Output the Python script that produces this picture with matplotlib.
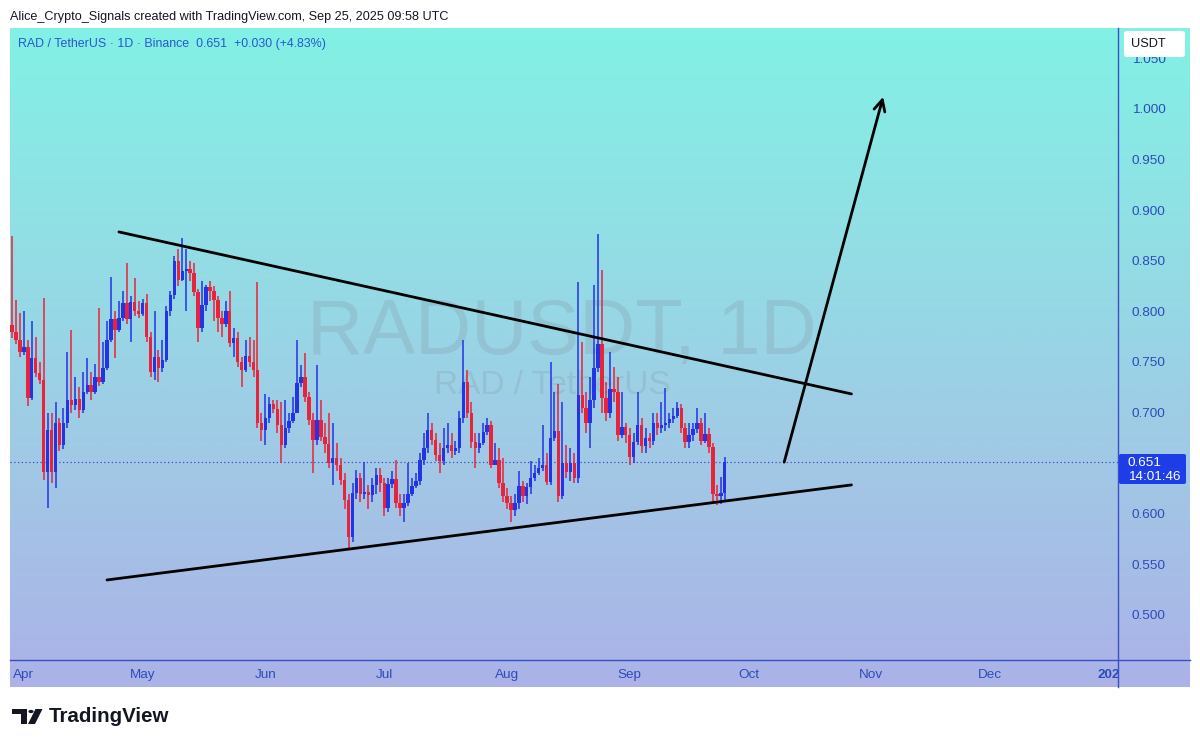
import numpy as np
import pandas as pd
import matplotlib
matplotlib.use('Agg')
import matplotlib.pyplot as plt
import matplotlib.dates as mdates
import matplotlib.transforms as mtransforms
from matplotlib.patches import FancyBboxPatch, Polygon, Circle
from matplotlib.colors import LinearSegmentedColormap

plt.rcParams['font.family'] = ['Liberation Sans', 'DejaVu Sans']

# ---- data (RAD/USDT daily) ----
first_date = '2025-03-29'
first_open = 0.787
closes = [
    0.780, 0.772, 0.760, 0.765, 0.714, 0.754, 0.739, 0.732, 0.641, 0.683,
    0.641, 0.690, 0.668, 0.690, 0.712, 0.707, 0.713, 0.703, 0.720, 0.727,
    0.720, 0.735, 0.730, 0.744, 0.772, 0.792, 0.782, 0.793, 0.808, 0.792,
    0.809, 0.800, 0.797, 0.808, 0.775, 0.740, 0.755, 0.744, 0.752, 0.800,
    0.816, 0.850, 0.831, 0.840, 0.842, 0.838, 0.819, 0.784, 0.806, 0.824,
    0.820, 0.811, 0.793, 0.788, 0.800, 0.769, 0.774, 0.750, 0.742, 0.756,
    0.750, 0.742, 0.690, 0.683, 0.695, 0.708, 0.704, 0.688, 0.668, 0.685,
    0.692, 0.700, 0.729, 0.735, 0.715, 0.693, 0.673, 0.693, 0.676, 0.669,
    0.650, 0.655, 0.648, 0.633, 0.614, 0.577, 0.621, 0.635, 0.620, 0.622,
    0.619, 0.628, 0.638, 0.630, 0.606, 0.629, 0.634, 0.611, 0.606, 0.611,
    0.620, 0.627, 0.632, 0.653, 0.665, 0.683, 0.673, 0.658, 0.652, 0.665,
    0.668, 0.662, 0.665, 0.695, 0.730, 0.700, 0.671, 0.665, 0.670, 0.681,
    0.688, 0.648, 0.653, 0.630, 0.618, 0.611, 0.604, 0.611, 0.627, 0.618,
    0.626, 0.635, 0.640, 0.645, 0.648, 0.631, 0.675, 0.682, 0.618, 0.650,
    0.641, 0.650, 0.635, 0.717, 0.705, 0.690, 0.712, 0.744, 0.768, 0.714,
    0.700, 0.723, 0.720, 0.678, 0.686, 0.678, 0.656, 0.671, 0.688, 0.667,
    0.675, 0.672, 0.690, 0.685, 0.688, 0.690, 0.694, 0.697, 0.705, 0.685,
    0.671, 0.678, 0.684, 0.690, 0.672, 0.679, 0.666, 0.620, 0.618, 0.621,
    0.651,
]
highs = [
    0.874, 0.811, 0.798, 0.800, 0.772, 0.790, 0.775, 0.750, 0.813, 0.700,
    0.700, 0.710, 0.695, 0.705, 0.760, 0.782, 0.735, 0.725, 0.740, 0.754,
    0.740, 0.748, 0.803, 0.770, 0.790, 0.834, 0.800, 0.810, 0.820, 0.848,
    0.815, 0.833, 0.810, 0.812, 0.817, 0.780, 0.800, 0.762, 0.772, 0.805,
    0.820, 0.855, 0.862, 0.872, 0.862, 0.850, 0.848, 0.822, 0.830, 0.826,
    0.830, 0.825, 0.815, 0.800, 0.810, 0.820, 0.784, 0.780, 0.755, 0.772,
    0.775, 0.772, 0.829, 0.700, 0.718, 0.715, 0.712, 0.712, 0.710, 0.712,
    0.700, 0.715, 0.772, 0.747, 0.759, 0.720, 0.700, 0.747, 0.712, 0.690,
    0.700, 0.690, 0.670, 0.655, 0.640, 0.620, 0.630, 0.643, 0.640, 0.651,
    0.628, 0.635, 0.645, 0.645, 0.635, 0.635, 0.642, 0.653, 0.620, 0.620,
    0.650, 0.635, 0.640, 0.660, 0.680, 0.700, 0.690, 0.680, 0.670, 0.685,
    0.690, 0.680, 0.672, 0.702, 0.772, 0.742, 0.710, 0.680, 0.680, 0.690,
    0.695, 0.692, 0.670, 0.665, 0.655, 0.625, 0.618, 0.620, 0.642, 0.632,
    0.630, 0.652, 0.648, 0.655, 0.688, 0.660, 0.750, 0.720, 0.728, 0.710,
    0.668, 0.665, 0.660, 0.829, 0.770, 0.720, 0.735, 0.826, 0.876, 0.841,
    0.730, 0.760, 0.745, 0.735, 0.720, 0.690, 0.685, 0.680, 0.720, 0.695,
    0.685, 0.680, 0.700, 0.700, 0.710, 0.724, 0.700, 0.705, 0.710, 0.708,
    0.690, 0.690, 0.690, 0.705, 0.695, 0.700, 0.685, 0.670, 0.628, 0.636,
    0.656,
]
lows = [
    0.774, 0.768, 0.755, 0.757, 0.706, 0.712, 0.735, 0.728, 0.633, 0.606,
    0.630, 0.625, 0.662, 0.664, 0.685, 0.700, 0.703, 0.695, 0.700, 0.718,
    0.712, 0.718, 0.726, 0.728, 0.742, 0.770, 0.754, 0.780, 0.790, 0.788,
    0.770, 0.795, 0.793, 0.795, 0.770, 0.735, 0.732, 0.730, 0.740, 0.750,
    0.795, 0.812, 0.825, 0.830, 0.800, 0.830, 0.815, 0.770, 0.780, 0.800,
    0.810, 0.790, 0.780, 0.775, 0.785, 0.765, 0.755, 0.745, 0.725, 0.740,
    0.745, 0.735, 0.685, 0.672, 0.668, 0.690, 0.700, 0.680, 0.650, 0.665,
    0.680, 0.690, 0.700, 0.725, 0.710, 0.688, 0.640, 0.668, 0.672, 0.660,
    0.645, 0.628, 0.642, 0.628, 0.605, 0.564, 0.572, 0.615, 0.612, 0.615,
    0.605, 0.612, 0.620, 0.622, 0.598, 0.602, 0.625, 0.606, 0.598, 0.592,
    0.608, 0.618, 0.625, 0.628, 0.648, 0.660, 0.668, 0.652, 0.640, 0.648,
    0.660, 0.655, 0.658, 0.660, 0.690, 0.695, 0.665, 0.645, 0.660, 0.668,
    0.678, 0.645, 0.648, 0.625, 0.612, 0.605, 0.592, 0.598, 0.605, 0.612,
    0.610, 0.620, 0.632, 0.638, 0.642, 0.628, 0.628, 0.672, 0.612, 0.615,
    0.635, 0.632, 0.630, 0.630, 0.700, 0.680, 0.665, 0.705, 0.740, 0.700,
    0.692, 0.695, 0.710, 0.672, 0.675, 0.670, 0.648, 0.650, 0.668, 0.660,
    0.660, 0.665, 0.668, 0.678, 0.680, 0.682, 0.685, 0.690, 0.695, 0.680,
    0.665, 0.665, 0.672, 0.680, 0.668, 0.670, 0.660, 0.612, 0.609, 0.610,
    0.612,
]

# hand-drawn pattern lines (date, price)
upper_line = [('2025-04-25', 0.8785), ('2025-10-27', 0.7184)]
lower_line = [('2025-04-22', 0.5346), ('2025-10-27', 0.6285)]
arrow_path = [('2025-10-10', 0.651), ('2025-11-04', 1.012)]

price_ticks = [0.500, 0.550, 0.600, 0.700, 0.750, 0.800, 0.850, 0.900, 0.950, 1.000, 1.050]
month_ticks = ['2025-04-01', '2025-05-01', '2025-06-01', '2025-07-01', '2025-08-01',
               '2025-09-01', '2025-10-01', '2025-11-01', '2025-12-01', '2026-01-01']
month_labels = ['Apr', 'May', 'Jun', 'Jul', 'Aug', 'Sep', 'Oct', 'Nov', 'Dec', '2026']

BLUE = '#2234e6'
RED = '#e8243a'
AXIS = '#3b50c6'
TICKC = '#2d4cb8'

W, H = 1200, 747


def fx(px):
    return px / W


def fy(py):
    return 1 - py / H


fig = plt.figure(figsize=(12, 7.47), dpi=100)
fig.patch.set_facecolor('white')

# gradient background (chart + scales)
bg = fig.add_axes([fx(10), fy(687), fx(1190) - fx(10), fy(28) - fy(687)], zorder=0)
cmap = LinearSegmentedColormap.from_list('tvbg', [(0.0, '#82f1e4'), (0.35, '#93dde5'),
                                                  (0.65, '#a1c9e5'), (1.0, '#abb2e8')])
grad = np.linspace(0, 1, 256).reshape(-1, 1)
bg.imshow(grad, aspect='auto', cmap=cmap, extent=[0, 1, 1, 0])
bg.set_axis_off()

ax = fig.add_axes([fx(10), fy(660), fx(1118) - fx(10), fy(28) - fy(660)], zorder=1)
ax.patch.set_alpha(0)

dates = pd.date_range(first_date, periods=len(closes), freq='D')
x = mdates.date2num(dates)
c = np.array(closes)
o = np.concatenate([[first_open], c[:-1]])
hi = np.maximum(np.array(highs), np.maximum(o, c))
lo = np.minimum(np.array(lows), np.minimum(o, c))
cols = np.where(c >= o, BLUE, RED)

ax.vlines(x, lo, hi, colors=cols, lw=1.1, zorder=3)
ax.bar(x, np.maximum(np.abs(c - o), 0.0015), bottom=np.minimum(o, c), width=0.86,
       color=cols, linewidth=0, zorder=4)

ax.set_xlim(x[0] - 0.5, x[0] + 279.3)
ax.set_ylim(0.4555, 1.080)


def axpos(px, py):
    return ((fx(px) - fx(10)) / (fx(1118) - fx(10)),
            (fy(py) - fy(660)) / (fy(28) - fy(660)))


# watermark
ax.text(*axpos(562, 334), 'RADUSDT, 1D', transform=ax.transAxes, ha='center', va='center',
        fontsize=56, color='#7d8a96', alpha=0.22, zorder=1)
ax.text(*axpos(552, 385), 'RAD / TetherUS', transform=ax.transAxes, ha='center', va='center',
        fontsize=24, color='#7d8a96', alpha=0.22, zorder=1)

# last price dotted line
ax.axhline(c[-1], color=AXIS, lw=0.9, ls=(0, (1, 2)), zorder=2)

# pattern lines
for line in (upper_line, lower_line):
    lx = mdates.date2num(pd.to_datetime([p[0] for p in line]))
    ly = [p[1] for p in line]
    ax.plot(lx, ly, color='black', lw=2.0, solid_capstyle='round', zorder=5)
arr_x = mdates.date2num(pd.to_datetime([p[0] for p in arrow_path]))
ax.annotate('', xy=(arr_x[1], arrow_path[1][1]), xytext=(arr_x[0], arrow_path[0][1]),
            arrowprops=dict(arrowstyle='->,head_length=0.8,head_width=0.4', lw=2.0,
                            color='black', shrinkA=0, shrinkB=0), zorder=5)

# axes styling
for s in ax.spines.values():
    s.set_visible(False)
ax.set_xticks([])
ax.yaxis.tick_right()
ax.set_yticks(price_ticks)
ax.set_yticklabels([f'{v:.3f}' for v in price_ticks])
ax.tick_params(axis='y', length=0, pad=10, labelsize=9.7, labelcolor=TICKC)

# month labels, clipped at the price scale
trans = mtransforms.blended_transform_factory(ax.transData, fig.transFigure)
clip = mtransforms.TransformedBbox(mtransforms.Bbox([[fx(10), 0], [fx(1118), 1]]), fig.transFigure)
for d, lab in zip(month_ticks, month_labels):
    t = fig.text(mdates.date2num(pd.Timestamp(d)), fy(675), lab, transform=trans,
                 ha='center', va='center', fontsize=9.7, color=TICKC,
                 fontweight='bold' if lab == '2026' else 'normal', zorder=6)
    t.set_clip_box(clip)
    t.set_clip_on(True)

# scale borders
fig.add_artist(plt.Line2D([fx(1118), fx(1118)], [fy(28), fy(687)], color=AXIS, lw=1.0, zorder=7))
fig.add_artist(plt.Line2D([fx(10), fx(1190)], [fy(660), fy(660)], color=AXIS, lw=1.0, zorder=7))

# USDT box
fig.add_artist(FancyBboxPatch((fx(1124), fy(57)), fx(1185) - fx(1124), fy(31) - fy(57),
                              boxstyle='round,pad=0,rounding_size=0.003', fc='white', ec='none',
                              transform=fig.transFigure, zorder=8))
fig.text(fx(1131), fy(44), 'USDT', ha='left', va='center', fontsize=9.2, color='#131722', zorder=9)

# last price label
fig.add_artist(FancyBboxPatch((fx(1119), fy(484)), fx(1186) - fx(1119), fy(454) - fy(484),
                              boxstyle='round,pad=0,rounding_size=0.002', fc='#1d3de6', ec='none',
                              transform=fig.transFigure, zorder=8))
fig.text(fx(1128), fy(463), f'{c[-1]:.3f}', ha='left', va='center', fontsize=9.7, color='white', zorder=9)
fig.text(fx(1128), fy(477), '14:01:46', ha='left', va='center', fontsize=9.7, color='white', zorder=9)

# header texts
fig.text(fx(10), fy(17), 'Alice_Crypto_Signals created with TradingView.com, Sep 25, 2025 09:58 UTC',
         ha='left', va='center', fontsize=9.1, color='#131722')
change = c[-1] - c[-2]
fig.text(fx(18), fy(44), f'RAD / TetherUS \u00b7 1D \u00b7 Binance  {c[-1]:.3f}  +{change:.3f} (+{change / c[-2] * 100:.2f}%)',
         ha='left', va='center', fontsize=8.9, color='#2658d0', zorder=9)

# TradingView logo
logo = '#131722'
fig.add_artist(Polygon([(fx(12), fy(709)), (fx(27), fy(709)), (fx(27), fy(724)), (fx(21), fy(724)),
                        (fx(21), fy(714)), (fx(12), fy(714))], closed=True, fc=logo, ec='none',
                       transform=fig.transFigure))
fig.add_artist(Circle((fx(31), fy(711.5)), 2.6 / W, fc=logo, ec='none', transform=fig.transFigure))
fig.add_artist(Polygon([(fx(35.5), fy(709)), (fx(42.5), fy(709)), (fx(35), fy(724)), (fx(28), fy(724))],
                       closed=True, fc=logo, ec='none', transform=fig.transFigure))
fig.text(fx(49), fy(717), 'TradingView', ha='left', va='center', fontsize=14.8,
         fontweight='bold', color=logo)

fig.savefig('out.png', dpi=100)
